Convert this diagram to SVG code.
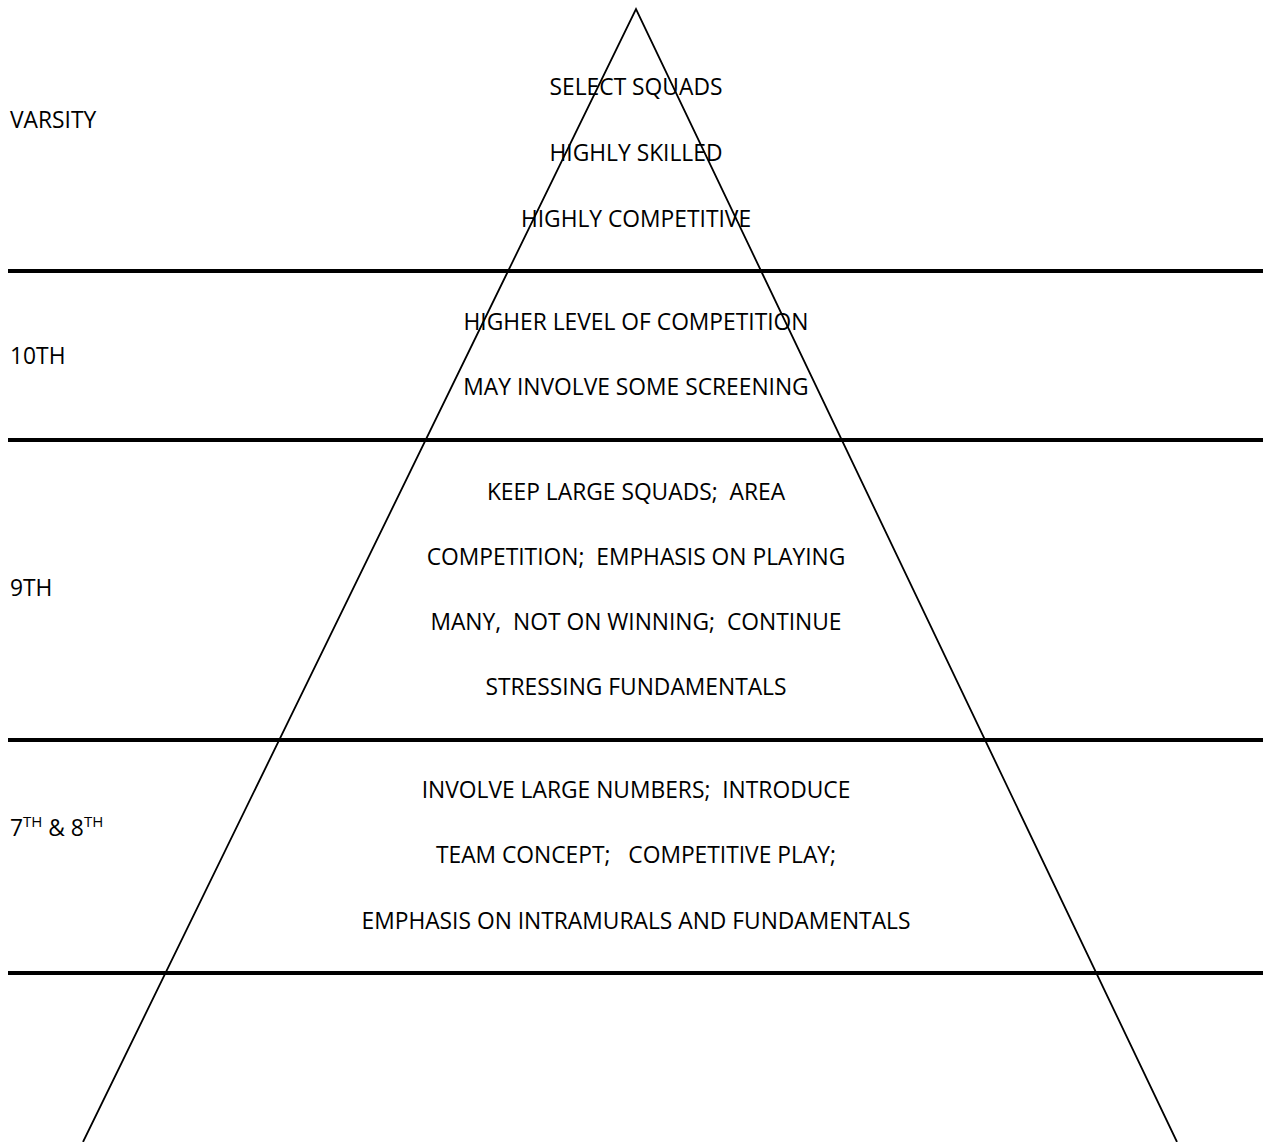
<svg xmlns="http://www.w3.org/2000/svg" width="1263" height="1142" viewBox="0 0 1263 1142">
<style>
text{font-family:"Open Sans","Liberation Sans",sans-serif;font-size:22.8px;fill:#000;white-space:pre}
.c{text-anchor:middle}
.band{stroke:#000;stroke-width:4}
.tri{stroke:#000;stroke-width:1.8;fill:none}
</style>
<rect width="1263" height="1142" fill="#fff"/>
<g id="connectors">
<line class="band" x1="8" y1="271" x2="1263" y2="271"/>
<line class="band" x1="8" y1="440" x2="1263" y2="440"/>
<line class="band" x1="8" y1="740" x2="1263" y2="740"/>
<line class="band" x1="8" y1="973" x2="1263" y2="973"/>
<polyline class="tri" points="83,1142 636,9 1177,1142"/>
</g>
<g id="varsity">
<text x="10" y="128">VARSITY</text>
<text class="c" x="636" y="95">SELECT SQUADS</text>
<text class="c" x="636" y="161">HIGHLY SKILLED</text>
<text class="c" x="636" y="227">HIGHLY COMPETITIVE</text>
</g>
<g id="tenth">
<text x="10" y="364">10TH</text>
<text class="c" x="636" y="330">HIGHER LEVEL OF COMPETITION</text>
<text class="c" x="636" y="395">MAY INVOLVE SOME SCREENING</text>
</g>
<g id="ninth">
<text x="10" y="596">9TH</text>
<text class="c" x="636" y="500" xml:space="preserve">KEEP LARGE SQUADS;  AREA</text>
<text class="c" x="636" y="565" xml:space="preserve">COMPETITION;  EMPHASIS ON PLAYING</text>
<text class="c" x="636" y="630" xml:space="preserve">MANY,  NOT ON WINNING;  CONTINUE</text>
<text class="c" x="636" y="695">STRESSING FUNDAMENTALS</text>
</g>
<g id="seventh-eighth">
<text x="10" y="836" xml:space="preserve">7<tspan font-size="15" dy="-9">TH</tspan><tspan dy="9"> &amp; 8</tspan><tspan font-size="15" dy="-9">TH</tspan></text>
<text class="c" x="636" y="798" xml:space="preserve">INVOLVE LARGE NUMBERS;  INTRODUCE</text>
<text class="c" x="636" y="863" xml:space="preserve">TEAM CONCEPT;   COMPETITIVE PLAY;</text>
<text class="c" x="636" y="929">EMPHASIS ON INTRAMURALS AND FUNDAMENTALS</text>
</g>
</svg>
